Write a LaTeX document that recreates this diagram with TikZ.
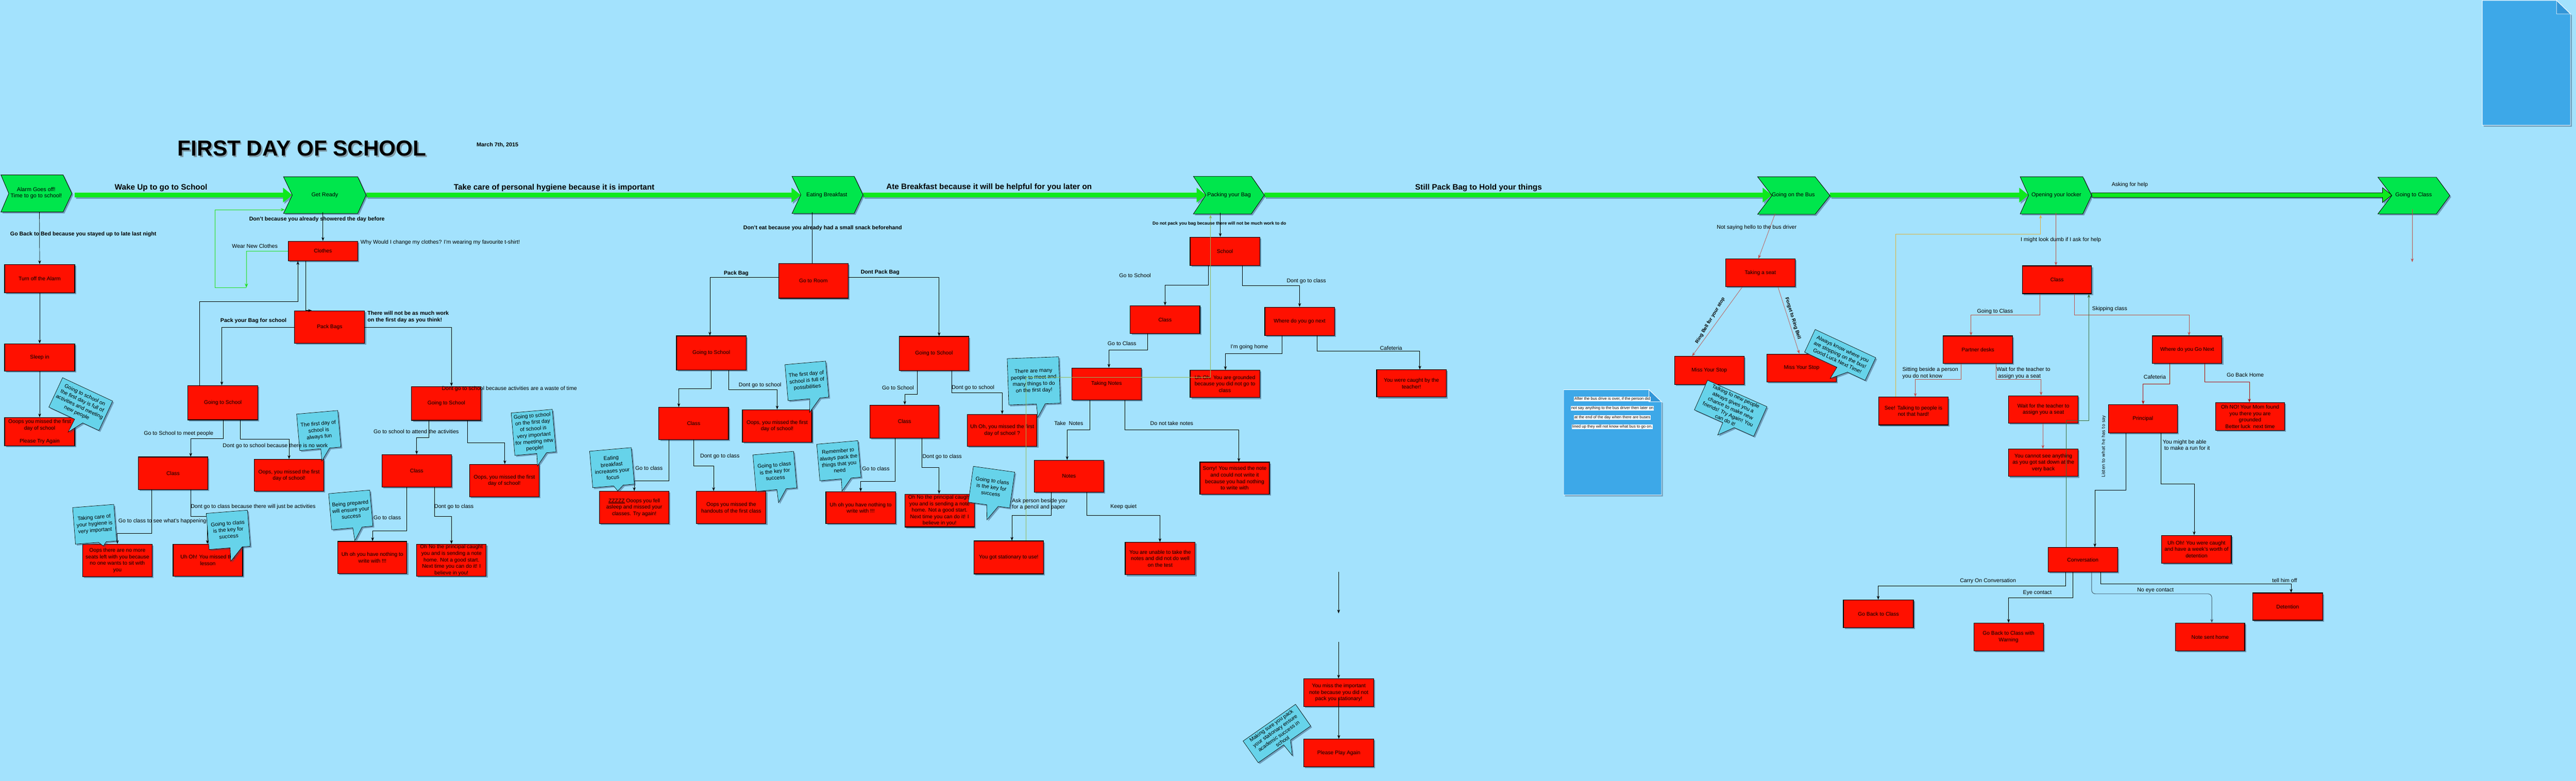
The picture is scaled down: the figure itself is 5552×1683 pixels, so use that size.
\documentclass[tikz,border=0pt]{standalone}
\usepackage{fontspec}
\setmainfont{Liberation Sans}
\newfontfamily\dejavu{DejaVu Sans}
\usetikzlibrary{arrows.meta,shadows,calc}
\definecolor{bgblue}{HTML}{A3E2FD}
\definecolor{boxred}{HTML}{FF1000}
\definecolor{chevgreen}{HTML}{00E64C}
\definecolor{bargreen}{HTML}{0EE91C}
\definecolor{callcyan}{HTML}{66D3EA}
\definecolor{docblue}{HTML}{3DA8E8}
\definecolor{docfold}{HTML}{3296D8}
\definecolor{lred}{HTML}{C0504D}
\definecolor{dred}{HTML}{B00000}
\definecolor{slate}{HTML}{3E5566}
\definecolor{dgreen}{HTML}{3C6E3C}
\definecolor{gold}{HTML}{E0B040}
\definecolor{olive}{HTML}{94B85A}
\definecolor{lgreen}{HTML}{22E022}
\definecolor{shadowc}{HTML}{304A6A}
\tikzset{
 shad/.style={drop shadow={shadow xshift=3pt,shadow yshift=-3pt,opacity=0.45,fill=shadowc}},
 redbox/.style={draw=black,line width=1.3pt,fill=boxred,shad,align=center,inner sep=1pt,font=\fontsize{11.4}{14}\selectfont},
 chevshape/.style={draw=black,line width=0.9pt,fill=chevgreen,shad},
 chevtext/.style={font=\fontsize{12}{14}\selectfont,align=center,inner sep=0pt},
 tipa/.style={-{Stealth[length=8pt,width=6pt]}},
 conn/.style={draw=black,line width=0.8pt,tipa},
 plainconn/.style={draw=black,line width=0.8pt},
 gconn/.style={draw=lgreen,line width=1pt,-{Stealth[length=9pt,width=7pt]}},
 lconn/.style={draw=lred,line width=0.8pt,tipa},
 dconn/.style={draw=dred,line width=1pt,tipa},
 sconn/.style={draw=slate,line width=1pt,tipa},
 oconn/.style={draw=gold,line width=0.8pt,tipa},
 olconn/.style={draw=olive,line width=0.8pt,tipa},
 dgconn/.style={draw=dgreen,line width=0.8pt,tipa},
 callo/.style={draw=black,line width=0.7pt,fill=callcyan,shad},
 ctext/.style={font=\fontsize{11.5}{14}\selectfont,align=center,inner sep=0pt},
 lab/.style={font=\fontsize{11.8}{14}\selectfont,anchor=west,inner sep=0pt,align=left},
 blab/.style={lab,font=\bfseries\fontsize{11.8}{14}\selectfont},
 barlab/.style={font=\bfseries\fontsize{17}{20}\selectfont,anchor=west,inner sep=0pt},
 doctext/.style={fill=white,inner sep=0.8pt,font=\fontsize{8.6}{10}\selectfont},
}
\newcommand\mkbox[6]{\node[redbox,minimum width={(#4)-(#2)},minimum height={(#5)-(#3)}] (#1) at ({((#2)+(#4))/2},{((#3)+(#5))/2}) {#6};}
\newcommand\gbar[3][]{\path[fill=bargreen,shad,#1] (#2,415.5) -- ({#3-20},415.5) -- ({#3-20},404.5) -- (#3,420.5) -- ({#3-20},436.5) -- ({#3-20},425.5) -- (#2,425.5) -- cycle;}
\newcommand\chev[6]{\path[chevshape] (#1,#5) -- (#3,#5) -- (#4,{(#5+#6)/2}) -- (#3,#6) -- (#1,#6) -- (#2,{(#5+#6)/2}) -- cycle;}
\newcommand\mkcallout[9]{%
 \begin{scope}[shift={#2},rotate=#3]
  \pgfmathsetmacro\cwid{(#4)/2}\pgfmathsetmacro\chgt{(#5)/2}
  \path[callo] (-\cwid,-\chgt) -- (\cwid,-\chgt) -- (\cwid,\chgt) -- (#7,\chgt) -- #8 -- (#6,\chgt) -- (-\cwid,\chgt) -- cycle;
  \node[ctext,rotate=#3] (#1) at (0,0) {#9};
 \end{scope}}
\begin{document}
\begin{tikzpicture}[x=1pt,y=-1pt]
\useasboundingbox (0,0) rectangle (5552,1683);
\fill[bgblue] (0,0) rectangle (5552,1683);

% title
\node[font=\bfseries\fontsize{47}{50}\selectfont,text=black!60,opacity=0.55] (titleshadow) at (654,323) {FIRST DAY OF SCHOOL};
\node[font=\bfseries\fontsize{47}{50}\selectfont] (title) at (651,320) {FIRST DAY OF SCHOOL};
\node[font=\bfseries\fontsize{12}{14}\selectfont,anchor=west,inner sep=0pt] (date) at (1027,313) {March 7th, 2015};

% main bar
\gbar{161}{630}
\gbar{789}{1726}
\gbar{1860}{2599}
\gbar{2725}{3819}
\gbar{3944}{4372}
\gbar[draw=black,line width=0.8pt]{4508}{5155}

% chevrons
\chev{2}{19}{136}{155}{377}{457}
\chev{611}{630}{771}{789}{381}{460}
\chev{1707}{1726}{1841}{1860}{380}{460}
\chev{2572}{2599}{2697}{2725}{380}{461}
\chev{3788}{3819}{3912}{3944}{381}{462}
\chev{4354}{4372}{4489}{4508}{381}{461}
\chev{5125}{5155}{5251}{5280}{382}{461}
\node[chevtext] (alarm) at (78,416) {Alarm Goes off!\\Time to go to school!};
\node[chevtext] (getready) at (700,420) {Get Ready};
\node[chevtext] (eating) at (1782,420) {Eating Breakfast};
\node[chevtext] (packing) at (2649,420) {Packing your Bag};
\node[chevtext] (bus) at (3865,420) {Going on the Bus};
\node[chevtext] (locker) at (4432,420) {Opening your locker};
\node[chevtext] (goclass) at (5202,421) {Going to Class};

% bar labels
\node[barlab] (b1) at (247,405) {Wake Up to go to School};
\node[barlab] (b2) at (978,405) {Take care of personal hygiene because it is important};
\node[barlab] (b3) at (1910,404) {Ate Breakfast because it will be helpful for you later on};
\node[barlab] (b4) at (3050,405) {Still Pack Bag to Hold your things};

% coordinates
\coordinate (alarmB) at (85,457);
\coordinate (grB) at (696,458);
\coordinate (grL) at (614,452);
\coordinate (wearEnd) at (531,620);
\coordinate (wearCorner) at (463,620);
\coordinate (ebB) at (1750,458);
\coordinate (pkB) at (2630,459);
\coordinate (pkB2) at (2609,463);
\coordinate (busB) at (3826,460);
\coordinate (lkB) at (4431,459);
\coordinate (lkB2) at (4398,463);
\coordinate (gcB) at (5199,451);
\coordinate (gcEnd) at (5199,565);
\coordinate (fa1) at (2885,1233);
\coordinate (fa2) at (2885,1322);
\coordinate (fa3) at (2885,1383);

% documents
\path[fill=docblue,draw=white,line width=1pt,shad] (3370,840) -- (3554,840) -- (3581,866) -- (3581,1067) -- (3370,1067) -- cycle;
\path[fill=docfold,draw=white,line width=1pt] (3554,840) -- (3554,866) -- (3581,866) -- cycle;
\path[fill=docblue,draw=white,line width=1pt,shad] (5350,1) -- (5510,1) -- (5540,30) -- (5540,270) -- (5350,270) -- cycle;
\path[fill=docfold,draw=white,line width=1pt] (5510,1) -- (5510,30) -- (5540,30) -- cycle;
\node[doctext] (d1) at (3475,860) {After the bus drive is over, if the person did};
\node[doctext] (d2) at (3475,880) {not say anything to the bus driver then later on};
\node[doctext] (d3) at (3475,900) {at the end of the day when there are buses};
\node[doctext] (d4) at (3475,920) {lined up they will not know what bus to go on.};

% boxes
\mkbox{turnoff}{10}{570}{161}{631}{Turn off the Alarm}
\mkbox{sleepin}{10}{741}{161}{800}{Sleep in}
\mkbox{ooops}{10}{900}{161}{961}{Ooops you missed the first\\day of school\\[14pt]Please Try Again}
\mkbox{clothes}{621}{520}{771}{562}{Clothes}
\mkbox{packbags}{635}{670}{786}{740}{Pack Bags}
\mkbox{gtsA}{405}{831}{556}{905}{Going to School}
\mkbox{classA}{298}{985}{448}{1055}{Class}
\mkbox{oopsA}{548}{990}{698}{1059}{Oops, you missed the first\\day of school!}
\mkbox{seats}{178}{1173}{328}{1243}{Oops there are no more\\seats left with you because\\no one wants to sit with\\you}
\mkbox{lessonA}{373}{1173}{523}{1242}{Uh Oh! You missed the\\lesson}
\mkbox{gtsB}{887}{833}{1037}{906}{Going to School}
\mkbox{classB}{823}{980}{973}{1050}{Class}
\mkbox{oopsB}{1012}{1001}{1162}{1071}{Oops, you missed the first\\day of school!}
\mkbox{writeB}{728}{1167}{877}{1236}{Uh oh you have nothing to\\write with !!!}
\mkbox{princB}{898}{1173}{1048}{1242}{Oh No the principal caught\\you and is sending a note\\home. Not a good start.\\Next time you can do it! I\\believe in you!}
\mkbox{room}{1678}{568}{1828}{643}{Go to Room}
\mkbox{gtsC}{1458}{724}{1608}{798}{Going to School}
\mkbox{classC}{1420}{878}{1570}{948}{Class}
\mkbox{oopsC}{1600}{883}{1750}{953}{Oops, you missed the first\\day of school!}
\mkbox{zzz}{1292}{1059}{1442}{1129}{\underline{ZZZZZ} Ooops you fell\\asleep and missed your\\classes. Try again!}
\mkbox{handouts}{1501}{1059}{1651}{1129}{Oops you missed the\\handouts of the first class}
\mkbox{gtsD}{1938}{725}{2088}{799}{Going to School}
\mkbox{classD}{1875}{873}{2024}{944}{Class}
\mkbox{writeD}{1780}{1060}{1930}{1129}{Uh oh you have nothing to\\write with !!!}
\mkbox{princD}{1950}{1065}{2100}{1136}{Oh No the principal caught\\you and is sending a note\\home. Not a good start.\\Next time you can do it! I\\believe in you!}
\mkbox{oopsD}{2085}{893}{2235}{962}{Uh Oh, you missed the first\\day of school ?}
\mkbox{school}{2565}{511}{2715}{572}{School}
\mkbox{classE}{2436}{659}{2586}{719}{Class}
\mkbox{whereE}{2726}{662}{2876}{723}{Where do you go next}
\mkbox{tnotes}{2310}{793}{2460}{862}{Taking Notes}
\mkbox{grounded}{2565}{798}{2715}{857}{Uh Oh! You are grounded\\because you did not go to\\class}
\mkbox{caught}{2967}{797}{3117}{856}{You were caught by the\\teacher!}
\mkbox{notes}{2229}{992}{2379}{1061}{Notes}
\mkbox{sorry}{2586}{996}{2736}{1065}{Sorry! You missed the note\\and could not write it\\because you had nothing\\to write with}
\mkbox{stationary}{2099}{1166}{2249}{1237}{You got stationary to use!}
\mkbox{unable}{2425}{1169}{2576}{1239}{You are unable to take the\\notes and did not do well\\on the test}
\mkbox{missnote}{2810}{1463}{2961}{1523}{You miss the important\\note because you did not\\pack you stationary!}
\mkbox{playagain}{2810}{1593}{2961}{1653}{Please Play Again}
\mkbox{seat}{3719}{558}{3869}{618}{Taking a seat}
\mkbox{missA}{3609}{768}{3759}{829}{Miss Your Stop}
\mkbox{missB}{3808}{763}{3958}{823}{Miss Your Stop}
\mkbox{classF}{4359}{573}{4508}{633}{Class}
\mkbox{partner}{4188}{724}{4338}{783}{Partner desks}
\mkbox{whereF}{4639}{724}{4789}{783}{Where do you Go Next}
\mkbox{see}{4049}{856}{4199}{916}{See! Talking to people is\\not that hard!}
\mkbox{wait}{4329}{853}{4479}{912}{Wait for the teacher to\\assign you a seat}
\mkbox{cannot}{4329}{968}{4479}{1027}{You cannot see anything\\as you got sat down at the\\very back}
\mkbox{principal}{4544}{872}{4693}{933}{Principal}
\mkbox{mom}{4775}{868}{4924}{928}{Oh NO! Your Mom found\\you there you are\\grounded\\Better luck\ \ next time}
\mkbox{conversation}{4414}{1180}{4564}{1233}{Conversation}
\mkbox{caughtweek}{4659}{1154}{4809}{1214}{Uh Oh! You were caught\\and have a week's worth of\\detention}
\mkbox{backclass}{3973}{1293}{4124}{1353}{Go Back to Class}
\mkbox{warning}{4254}{1343}{4404}{1403}{Go Back to Class with\\Warning}
\mkbox{notehome}{4689}{1343}{4838}{1403}{Note sent home}
\mkbox{detention}{4855}{1278}{5006}{1337}{Detention}

% connectors: left part
\draw[conn] (alarmB) -- (turnoff.north);
\draw[conn] (turnoff.south) -- (sleepin.north);
\draw[conn] (sleepin.south) -- (ooops.north);
\draw[conn] (grB) -- (clothes.north -| grB);
\draw[gconn] (clothes.west) -| (wearEnd);
\draw[gconn] (wearEnd) -- (wearCorner) |- (grL);
\draw[conn] (clothes.south -| 659,0) |- (packbags.north west -| 672,0);
\draw[conn] (gtsA.north -| 430,0) |- (642,650) -- (clothes.south -| 642,0);
\draw[conn] (packbags.west) -| (gtsA.north -| 478,0);
\draw[conn] (packbags.east) -| (gtsB.north -| 973,0);
\draw[conn] (gtsA.south -| 481,0) |- (411,945) -- (classA.north -| 411,0);
\draw[conn] (gtsA.south -| 518,0) |- (623,947) -- (oopsA.north -| 623,0);
\draw[conn] (classA.south -| 411,0) |- (447,1113) -- (lessonA.north -| 447,0);
\draw[conn] (classA.south -| 327,0) |- (253,1150) -- (seats.north -| 253,0);
\draw[conn] (gtsB.south -| 924,0) |- (898,943) -- (classB.north -| 898,0);
\draw[conn] (gtsB.south -| 1008,0) |- (1088,954) -- (oopsB.north -| 1088,0);
\draw[conn] (classB.south -| 877,0) |- (803,1144) -- (writeB.north -| 803,0);
\draw[conn] (classB.south -| 936,0) |- (973,1113) -- (princB.north -| 973,0);
% eating breakfast
\draw[plainconn] (ebB) -- (room.north -| ebB);
\draw[conn] (room.west |- 0,598) -| (gtsC.north -| 1530,0);
\draw[conn] (room.east |- 0,598) -| (gtsD.north -| 2024,0);
\draw[conn] (gtsC.south -| 1533,0) |- (1463,838) -- (classC.north -| 1463,0);
\draw[conn] (gtsC.south -| 1570,0) |- (1675,840) -- (oopsC.north -| 1675,0);
\draw[conn] (classC.south -| 1442,0) |- (1367,1036) -- (zzz.north -| 1367,0);
\draw[conn] (classC.south -| 1495,0) |- (1538,1004) -- (handouts.north -| 1538,0);
\draw[conn] (gtsD.south -| 1977,0) |- (1950,850) -- (classD.north -| 1950,0);
\draw[conn] (gtsD.south -| 2051,0) |- (2160,846) -- (oopsD.north -| 2160,0);
\draw[conn] (classD.south -| 1929,0) |- (1855,1038) -- (writeD.north -| 1855,0);
\draw[conn] (classD.south -| 1987,0) |- (2024,1007) -- (princD.north -| 2024,0);
% packing your bag
\draw[conn] (pkB) -- (school.north -| pkB);
\draw[conn] (school.south -| 2604,0) |- (2511,615) -- (classE.north -| 2511,0);
\draw[conn] (school.south -| 2678,0) |- (2801,616) -- (whereE.north -| 2801,0);
\draw[conn] (classE.south -| 2473,0) |- (2390,754) -- (tnotes.north -| 2390,0);
\draw[conn] (whereE.south -| 2763,0) |- (2641,762) -- (grounded.north -| 2641,0);
\draw[conn] (whereE.south -| 2838,0) |- (3060,757) -- (caught.north -| 3060,0);
\draw[conn] (tnotes.south -| 2349,0) |- (2300,927) -- (notes.north -| 2300,0);
\draw[conn] (tnotes.south -| 2424,0) |- (2670,927) -- (sorry.north -| 2670,0);
\draw[conn] (notes.south -| 2266,0) |- (2181,1111) -- (stationary.north -| 2181,0);
\draw[conn] (notes.south -| 2342,0) |- (2500,1111) -- (unable.north -| 2500,0);
\draw[conn] (fa1) -- (fa2);
\draw[conn] (fa3) -- (missnote.north -| fa3);
\draw[conn] (missnote.center |- 0,1505) -- (playagain.north);
% bus
\draw[lconn] (busB) -- (seat.north -| 3790,0);
\draw[lconn] (seat.south -| 3755,0) -- (missA.north -| 3647,0);
\draw[lconn] (seat.south -| 3832,0) -- (missB.north -| 3878,0);
% locker
\draw[lconn] (lkB) -- (classF.north -| lkB);
\draw[lconn] (classF.south -| 4396,0) |- (4248,679) -- (partner.north -| 4248,0);
\draw[lconn] (classF.south -| 4471,0) |- (4718,679) -- (whereF.north -| 4718,0);
\draw[lconn] (partner.south -| 4227,0) |- (4128,818) -- (see.north -| 4128,0);
\draw[lconn] (partner.south -| 4302,0) |- (4399,818) -- (wait.north -| 4399,0);
\draw[lconn] (wait.south -| 4403,0) -- (cannot.north -| 4403,0);
\draw[oconn] (see.north -| 4086,0) |- (4398,504) -- (lkB2);
\draw[dconn] (whereF.south -| 4676,0) |- (4619,828) -- (principal.north -| 4619,0);
\draw[dconn] (whereF.south -| 4752,0) |- (4848,823) -- (mom.north -| 4848,0);
\draw[conn] (principal.south -| 4582,0) |- (4515,1056) -- (conversation.north -| 4515,0);
\draw[conn] (principal.south -| 4657,0) |- (4729,1043) -- (caughtweek.north -| 4729,0);
\draw[conn] (conversation.south -| 4452,0) |- (4048,1263) -- (backclass.north -| 4048,0);
\draw[conn] (conversation.south -| 4468,0) |- (4329,1288) -- (warning.north -| 4329,0);
\draw[sconn,rounded corners=8pt] (conversation.south -| 4508,0) |- (4767,1280) -- (notehome.north -| 4767,0);
\draw[conn] (conversation.south -| 4527,0) |- (4938,1258) -- (detention.north -| 4938,0);
\draw[lconn] (gcB) -- (gcEnd);

% callouts
\mkcallout{cA}{(174,871)}{-25}{119}{70}{2}{21}{(1,66)}{Going to school on\\the first day is full of\\activities and meeting\\new people}
\mkcallout{cB}{(204,1130)}{4.5}{89}{79}{5}{22}{(15,48)}{Taking care of\\your hygiene is\\very important}
\mkcallout{cC}{(492,1142)}{4.5}{89}{78}{1}{27}{(0,68)}{Going to class\\is the key for\\success}
\mkcallout{cD}{(687,928)}{5}{89}{79}{1}{20}{(1,66)}{The first day of\\school is\\always fun}
\mkcallout{cE}{(756,1099)}{5}{89}{78}{1}{21}{(3,67)}{Being prepared\\will ensure your\\success}
\mkcallout{cF}{(1150,932)}{5}{89}{92}{3}{24}{(2,73)}{Going to school\\on the first day\\of school is\\very important\\for meeting new\\people!}
\mkcallout{cG}{(1739,821)}{5}{88}{78}{3}{25}{(0,68)}{The first day of\\school is full of\\possibilities}
\mkcallout{cH}{(1319,1008)}{5}{90}{79}{0}{21}{(8,51)}{Eating\\breakfast\\increases your\\focus}
\mkcallout{cI}{(1670,1016)}{5}{88}{79}{1}{21}{(2,68)}{Going to class\\is the key for\\success}
\mkcallout{cJ}{(1808,993)}{5}{89}{79}{2}{23}{(1,66)}{Remember to\\always pack the\\things that you\\need}
\mkcallout{cK}{(2228,821)}{2}{111}{100}{4}{23}{(6,79)}{There are many\\people to meet and\\many things to do\\on the first day!}
\mkcallout{cL}{(2137,1050)}{-8}{90}{78}{-5}{20}{(0,71)}{Going to class\\is the key for\\success}
\mkcallout{cM}{(2752,1581)}{35}{138}{57}{-2}{16}{(0,58)}{Making sure you pack\\your stationary ensure\\academic success in\\school}
\mkcallout{cN}{(3966,765)}{-25}{144}{54}{5}{30}{(2,55)}{Always know where you\\are stopping on the bus!\\Good Luck Next Time!}
\mkcallout{cO}{(3730,880)}{-24}{140}{70}{-3}{24}{(-2,64)}{Talking to new people\\always gives you a\\chance to make new\\friends! Try Again! You\\can do it!}

% overlay lines
\draw[olconn] (stationary.north -| 2211,0) |- (2609,813) -- (pkB2);
\draw[dgconn] (conversation.north -| 4453,0) |- (4502,906) -- (classF.south -| 4502,0);

% edge labels
\node[blab] (l1) at (22,505) {Go Back to Bed because you stayed up to late last night};
\node[blab] (l2) at (537,473) {Don't because you already showered the day before};
\node[lab] (l3) at (777,523) {Why Would I change my clothes? I'm wearing my favourite t-shirt!};
\node[lab] (l4) at (500,530) {Wear New Clothes};
\node[blab] (l5) at (792,683) {There will not be as much work\\on the first day as you think!};
\node[blab] (l6) at (475,692) {Pack your Bag for school};
\node[lab] (l7) at (310,935) {Go to School to meet people};
\node[lab] (l8) at (480,961) {Dont go to school because there is no work};
\node[lab] (l9) at (411,1092) {Dont go to class because there will just be activities};
\node[lab] (l10) at (255,1123) {Go to class to see what's happening};
\node[lab] (l11) at (805,930) {Go to school to attend the activities};
\node[lab] (l12) at (952,838) {Dont go to school because activities are a waste of time};
\node[lab] (l13) at (805,1116) {Go to class};
\node[lab] (l14) at (936,1092) {Dont go to class};
\node[blab] (l15) at (1602,492) {Don't eat because you already had a small snack beforehand};
\node[blab] (l16) at (1560,589) {Pack Bag};
\node[blab] (l17) at (1855,587) {Dont Pack Bag};
\node[lab] (l18) at (1592,830) {Dont go to school};
\node[lab] (l19) at (1369,1009) {Go to class};
\node[lab] (l20) at (1509,983) {Dont go to class};
\node[lab] (l21) at (1901,836) {Go to School};
\node[lab] (l22) at (1858,1010) {Go to class};
\node[lab] (l23) at (1988,985) {Dont go to class};
\node[lab] (l24) at (2051,836) {Dont go to school};
\node[blab,font=\bfseries\fontsize{9.5}{11}\selectfont] (l25) at (2484,482) {Do not pack you bag because there will not be much work to do};
\node[lab] (l26) at (2412,594) {Go to School};
\node[lab] (l27) at (2773,606) {Dont go to class};
\node[lab] (l28) at (2387,740) {Go to Class};
\node[lab] (l29) at (2652,748) {I'm going home};
\node[lab] (l30) at (2974,750) {Cafeteria};
\node[lab] (l31) at (2272,912) {Take\ \ Notes};
\node[lab] (l32) at (2479,912) {Do not take notes};
\node[lab] (l33) at (2181,1087) {Ask person beside you\\for a pencil and paper};
\node[lab] (l34) at (2393,1092) {Keep quiet};
\node[lab] (l35) at (3700,490) {Not saying hello to the bus driver};
\node[blab,anchor=center,font=\bfseries\fontsize{10.5}{12}\selectfont,rotate=59] (l36) at (3686,691) {Ring Bell for your stop};
\node[blab,anchor=center,font=\bfseries\fontsize{10.5}{12}\selectfont,rotate=-73] (l37) at (3864,686) {Forget to Ring Bell};
\node[lab] (l38) at (4551,398) {Asking for help};
\node[lab] (l39) at (4355,517) {I might look dumb if I ask for help};
\node[lab] (l40) at (4261,672) {Going to Class};
\node[lab] (l41) at (4509,666) {Skipping class};
\node[lab] (l42) at (4100,804) {Sitting beside a person\\you do not know};
\node[lab] (l43) at (4303,804) {Wait for the teacher to\\\ assign you a seat};
\node[lab] (l44) at (4620,813) {Cafeteria};
\node[lab] (l45) at (4799,808) {Go Back Home};
\node[font=\dejavu\fontsize{9.5}{11}\selectfont,rotate=90,inner sep=0pt] (l46) at (4534,962) {Listen to what he has to say};
\node[lab] (l47) at (4661,959) {You might be able\\\ to make a run for it};
\node[lab] (l48) at (4224,1252) {Carry On Conversation};
\node[lab] (l49) at (4360,1278) {Eye contact};
\node[lab] (l50) at (4606,1272) {No eye contact};
\node[lab] (l51) at (4897,1251) {tell him off};
\end{tikzpicture}
\end{document}
